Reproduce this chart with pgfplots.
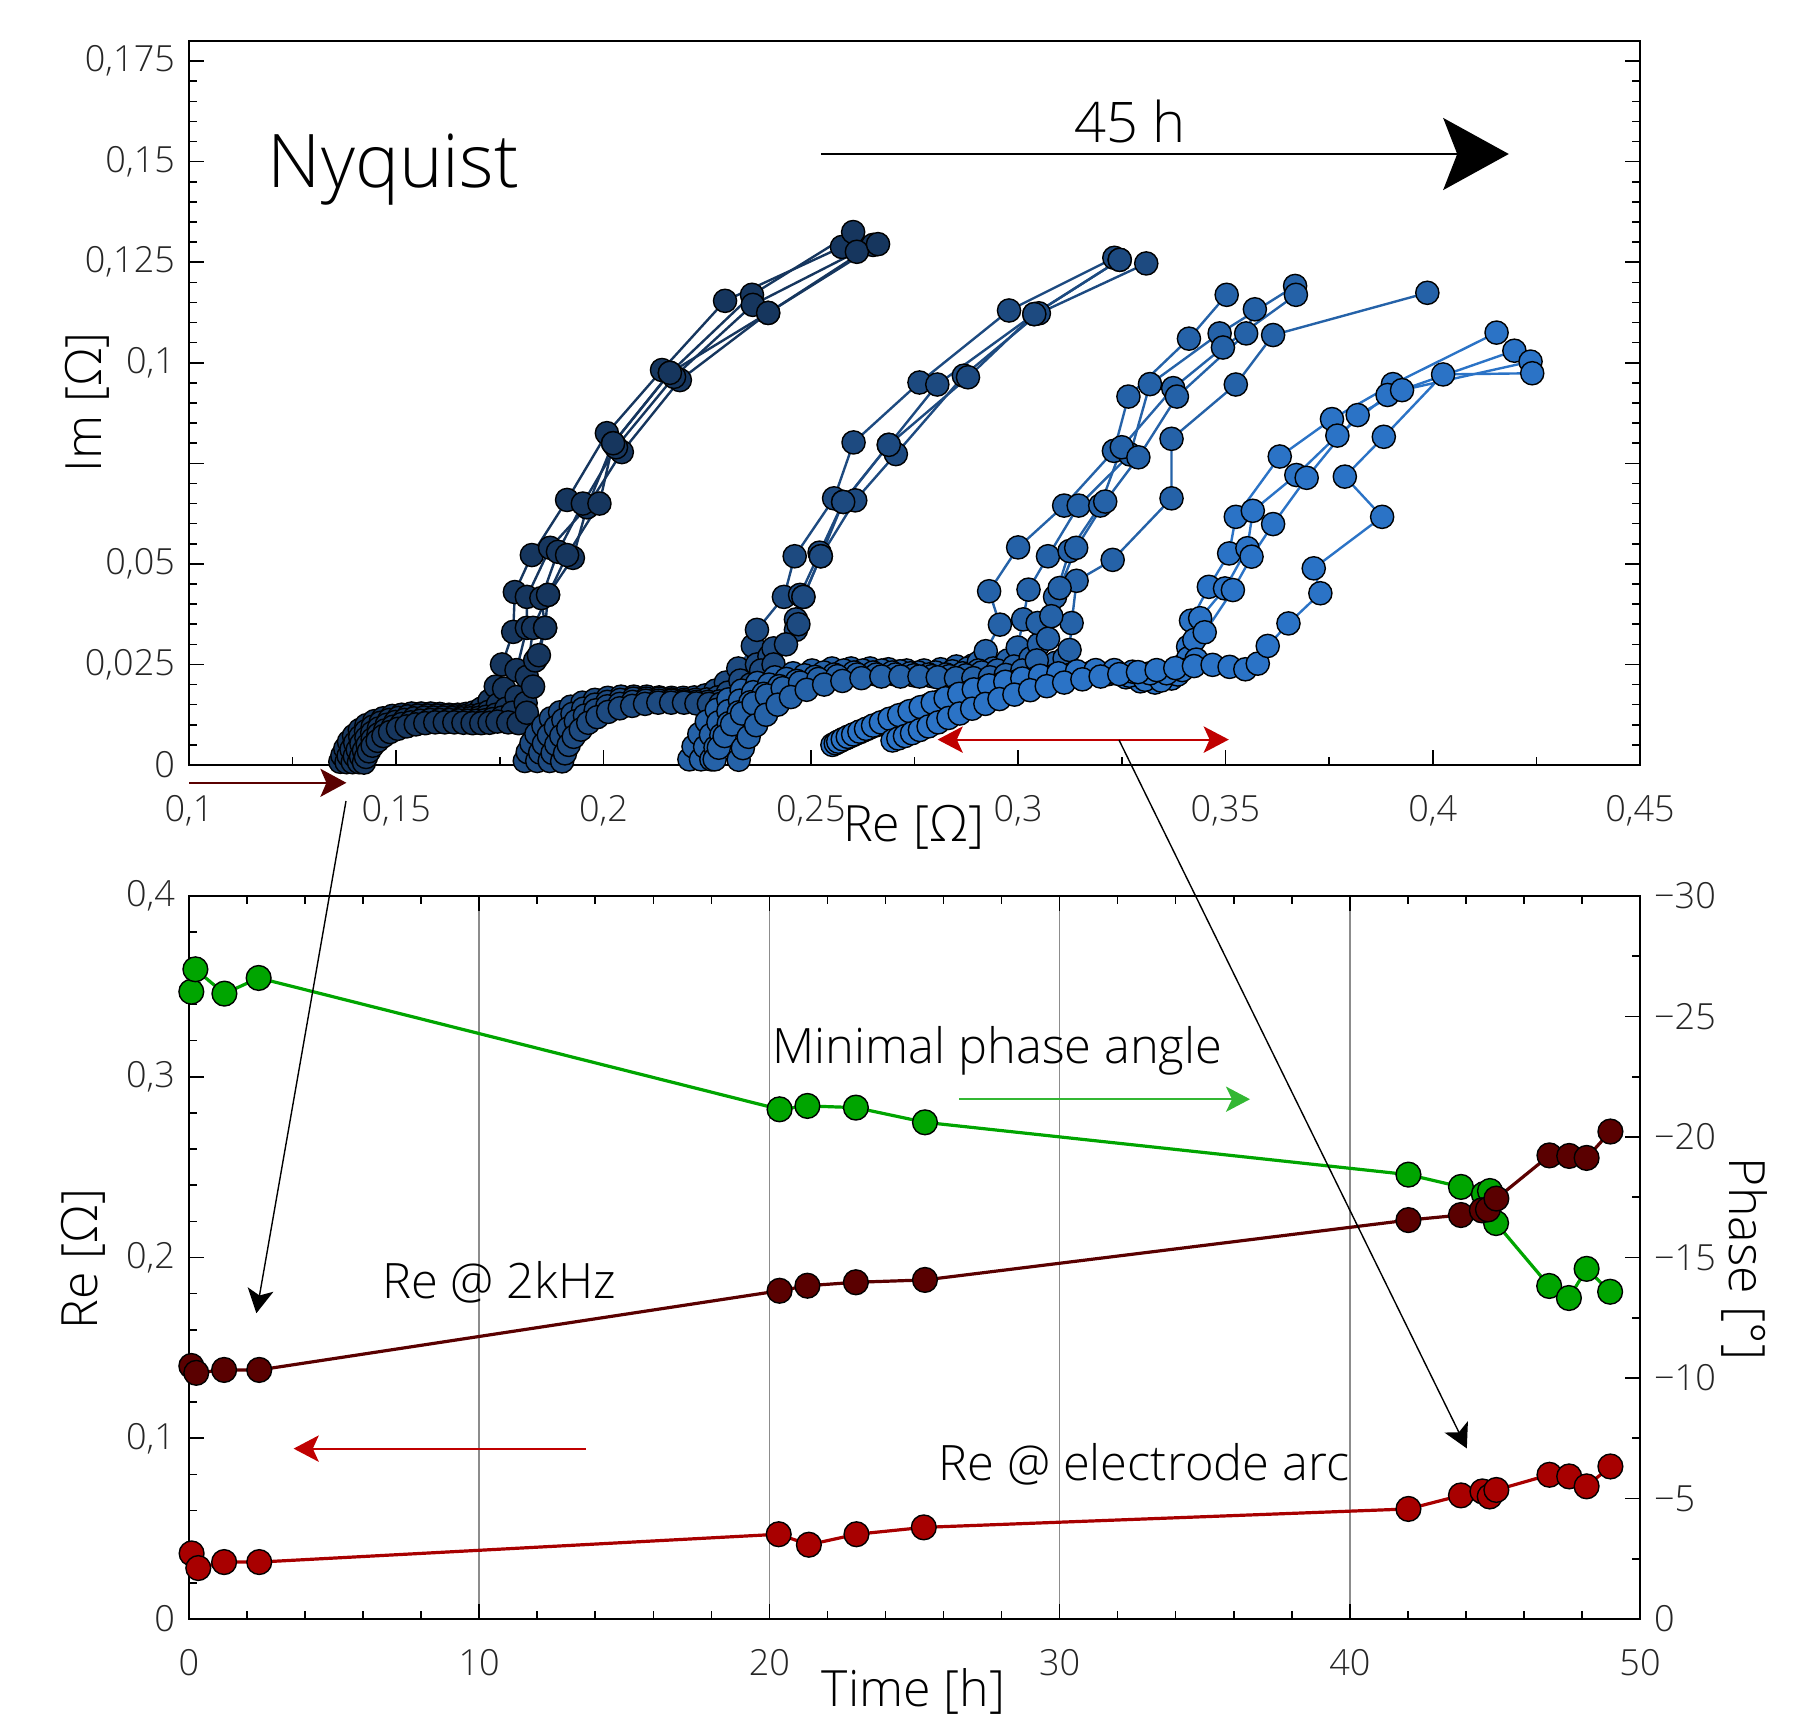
\documentclass[border=0pt]{standalone}
\usepackage{pgfplots}
\pgfplotsset{compat=1.18}
\usepackage{fontspec}
\setmainfont{Open Sans}[UprightFont={* Light}]
\usetikzlibrary{arrows.meta}

\definecolor{gA}{HTML}{16365E}
\definecolor{gB}{HTML}{1D4A80}
\definecolor{gC}{HTML}{2562A8}
\definecolor{gD}{HTML}{2B73C6}
\definecolor{phs}{HTML}{00A500}
\definecolor{kHz}{HTML}{5A0000}
\definecolor{arc}{HTML}{A80000}
\definecolor{arr}{HTML}{C00000}

\pgfplotsset{
  nyq/.style={color=#1, line width=0.6pt, mark=*, mark size=2.9pt,
    mark options={fill=#1, draw=black, line width=0.35pt}},
  tim/.style={color=#1, line width=0.8pt, mark=*, mark size=3.1pt,
    mark options={fill=#1, draw=black, line width=0.35pt}},
  frame/.style={scale only axis, width=362.75pt, anchor=south west,
    tick align=inside, major tick length=3.75pt, minor tick length=2pt,
    axis line style={line width=0.5pt},
    every tick/.style={black, line width=0.4pt},
    ticklabel style={font=\fontsize{9}{11}\selectfont, text=black!85},
    xticklabel style={yshift=-4pt}},
}

\begin{document}
\begin{tikzpicture}
\path[use as bounding box] (0pt,0pt) rectangle (455pt,429.5pt);

% Nyquist
\begin{axis}[frame, at={(47.25pt,238.25pt)}, height=181pt,
  xmin=0.1, xmax=0.45, ymin=0, ymax=0.18,
  xtick={0.1,0.15,0.2,0.25,0.3,0.35,0.4,0.45},
  xticklabels={{0,1},{0,15},{0,2},{0,25},{0,3},{0,35},{0,4},{0,45}},
  minor x tick num=1,
  ytick={0,0.025,0.05,0.075,0.1,0.125,0.15,0.175},
  yticklabels={{0},{0,025},{0,05},{},{0,1},{0,125},{0,15},{0,175}},
  minor y tick num=4,
  xtick pos=left, ytick pos=both, axis on top]

\addplot[nyq=gA] coordinates {(0.1365,0.0008)(0.1370,0.0024)(0.1377,0.0041)(0.1386,0.0058)(0.1398,0.0073)(0.1412,0.0087)(0.1428,0.0099)(0.1447,0.0109)(0.1468,0.0116)(0.1490,0.0122)(0.1513,0.0125)(0.1537,0.0128)(0.1560,0.0128)(0.1583,0.0128)(0.1605,0.0127)(0.1627,0.0125)(0.1648,0.0125)(0.1668,0.0127)(0.1687,0.0131)(0.1705,0.0140)(0.1725,0.0160)(0.1740,0.0195)(0.1755,0.0250)(0.1782,0.0331)(0.1786,0.0430)(0.1827,0.0522)(0.1912,0.0659)(0.2008,0.0825)(0.2141,0.0982)(0.2293,0.1154)(0.2575,0.1288)};
\addplot[nyq=gA] coordinates {(0.1380,0.0007)(0.1385,0.0023)(0.1392,0.0039)(0.1401,0.0055)(0.1413,0.0070)(0.1427,0.0084)(0.1443,0.0095)(0.1462,0.0105)(0.1483,0.0112)(0.1505,0.0117)(0.1528,0.0121)(0.1552,0.0123)(0.1575,0.0123)(0.1598,0.0123)(0.1620,0.0122)(0.1642,0.0121)(0.1663,0.0121)(0.1683,0.0122)(0.1702,0.0125)(0.1722,0.0132)(0.1745,0.0150)(0.1760,0.0190)(0.1790,0.0236)(0.1815,0.0341)(0.1815,0.0418)(0.1871,0.0540)(0.1960,0.0641)(0.2023,0.0800)(0.2160,0.0975)(0.2358,0.1169)(0.2602,0.1325)};
\addplot[nyq=gA] coordinates {(0.1395,0.0007)(0.1400,0.0022)(0.1407,0.0038)(0.1416,0.0053)(0.1428,0.0067)(0.1442,0.0080)(0.1458,0.0091)(0.1477,0.0100)(0.1498,0.0107)(0.1520,0.0112)(0.1543,0.0116)(0.1567,0.0118)(0.1590,0.0118)(0.1613,0.0118)(0.1635,0.0117)(0.1657,0.0116)(0.1678,0.0116)(0.1698,0.0117)(0.1717,0.0120)(0.1740,0.0125)(0.1765,0.0140)(0.1790,0.0169)(0.1815,0.0219)(0.1830,0.0341)(0.1866,0.0423)(0.1926,0.0515)(0.1960,0.0641)(0.2044,0.0778)(0.2184,0.0957)(0.2397,0.1124)(0.2650,0.1293)};
\addplot[nyq=gA] coordinates {(0.1410,0.0007)(0.1415,0.0021)(0.1422,0.0036)(0.1431,0.0050)(0.1443,0.0064)(0.1457,0.0076)(0.1473,0.0086)(0.1492,0.0095)(0.1513,0.0102)(0.1535,0.0106)(0.1558,0.0110)(0.1582,0.0112)(0.1605,0.0112)(0.1628,0.0112)(0.1650,0.0111)(0.1672,0.0110)(0.1693,0.0110)(0.1713,0.0111)(0.1732,0.0114)(0.1755,0.0118)(0.1780,0.0130)(0.1812,0.0154)(0.1835,0.0260)(0.1859,0.0341)(0.1850,0.0415)(0.1890,0.0530)(0.1950,0.0650)(0.2030,0.0790)(0.2170,0.0965)(0.2360,0.1144)(0.2611,0.1276)};
\addplot[nyq=gA] coordinates {(0.1422,0.0006)(0.1427,0.0020)(0.1434,0.0034)(0.1443,0.0048)(0.1455,0.0060)(0.1469,0.0072)(0.1485,0.0082)(0.1504,0.0090)(0.1525,0.0096)(0.1547,0.0101)(0.1570,0.0104)(0.1594,0.0106)(0.1617,0.0106)(0.1640,0.0106)(0.1662,0.0105)(0.1684,0.0104)(0.1705,0.0104)(0.1725,0.0105)(0.1744,0.0108)(0.1770,0.0106)(0.1795,0.0104)(0.1815,0.0130)(0.1830,0.0195)(0.1844,0.0273)(0.1859,0.0341)(0.1866,0.0423)(0.1912,0.0522)(0.1990,0.0650)(0.2023,0.0800)(0.2160,0.0975)(0.2397,0.1124)(0.2662,0.1295)};

\addplot[nyq=gB] coordinates {(0.1810,0.0010)(0.1817,0.0032)(0.1826,0.0054)(0.1838,0.0077)(0.1855,0.0097)(0.1873,0.0116)(0.1895,0.0131)(0.1921,0.0145)(0.1949,0.0155)(0.1979,0.0162)(0.2010,0.0167)(0.2042,0.0170)(0.2073,0.0170)(0.2104,0.0170)(0.2134,0.0168)(0.2164,0.0167)(0.2192,0.0167)(0.2219,0.0168)(0.2245,0.0173)(0.2270,0.0185)(0.2295,0.0205)(0.2325,0.0240)(0.2360,0.0296)(0.2370,0.0336)(0.2435,0.0418)(0.2461,0.0519)(0.2556,0.0663)(0.2603,0.0802)(0.2762,0.0951)(0.2978,0.1130)(0.3232,0.1261)};
\addplot[nyq=gB] coordinates {(0.1840,0.0010)(0.1847,0.0031)(0.1856,0.0053)(0.1868,0.0074)(0.1885,0.0094)(0.1903,0.0112)(0.1925,0.0127)(0.1951,0.0140)(0.1979,0.0150)(0.2009,0.0157)(0.2040,0.0162)(0.2072,0.0165)(0.2103,0.0165)(0.2134,0.0165)(0.2164,0.0163)(0.2194,0.0162)(0.2222,0.0162)(0.2249,0.0163)(0.2275,0.0168)(0.2300,0.0180)(0.2330,0.0210)(0.2370,0.0250)(0.2400,0.0270)(0.2464,0.0362)(0.2474,0.0423)(0.2521,0.0528)(0.2578,0.0654)(0.2688,0.0796)(0.2805,0.0946)(0.3039,0.1121)(0.3245,0.1256)};
\addplot[nyq=gB] coordinates {(0.1870,0.0010)(0.1877,0.0030)(0.1886,0.0051)(0.1898,0.0072)(0.1915,0.0091)(0.1933,0.0109)(0.1955,0.0123)(0.1981,0.0136)(0.2009,0.0146)(0.2039,0.0152)(0.2070,0.0157)(0.2102,0.0160)(0.2133,0.0160)(0.2164,0.0160)(0.2194,0.0158)(0.2224,0.0157)(0.2252,0.0157)(0.2279,0.0158)(0.2305,0.0163)(0.2330,0.0175)(0.2355,0.0200)(0.2380,0.0235)(0.2410,0.0290)(0.2464,0.0336)(0.2482,0.0418)(0.2524,0.0519)(0.2607,0.0658)(0.2705,0.0773)(0.2869,0.0968)(0.3050,0.1123)(0.3309,0.1247)};
\addplot[nyq=gB] coordinates {(0.1900,0.0009)(0.1907,0.0029)(0.1916,0.0050)(0.1928,0.0070)(0.1945,0.0088)(0.1963,0.0105)(0.1985,0.0119)(0.2011,0.0132)(0.2039,0.0141)(0.2069,0.0147)(0.2100,0.0152)(0.2132,0.0155)(0.2163,0.0155)(0.2194,0.0155)(0.2224,0.0153)(0.2254,0.0152)(0.2282,0.0152)(0.2309,0.0153)(0.2335,0.0158)(0.2360,0.0170)(0.2385,0.0200)(0.2410,0.0250)(0.2440,0.0300)(0.2470,0.0350)(0.2482,0.0418)(0.2524,0.0519)(0.2578,0.0654)(0.2688,0.0796)(0.2879,0.0964)(0.3039,0.1121)(0.3245,0.1256)};

\addplot[nyq=gC] coordinates {(0.2207,0.0014)(0.2217,0.0046)(0.2231,0.0077)(0.2249,0.0108)(0.2273,0.0137)(0.2301,0.0163)(0.2333,0.0185)(0.2371,0.0204)(0.2413,0.0218)(0.2457,0.0228)(0.2503,0.0235)(0.2551,0.0240)(0.2597,0.0240)(0.2643,0.0240)(0.2687,0.0238)(0.2731,0.0235)(0.2773,0.0235)(0.2813,0.0238)(0.2851,0.0245)(0.2890,0.0247)(0.2930,0.0248)(0.2970,0.0250)(0.3010,0.0251)(0.3050,0.0250)(0.3090,0.0254)(0.3112,0.0265)(0.3124,0.0286)(0.3129,0.0353)(0.3141,0.0458)(0.3228,0.0510)(0.3370,0.0663)(0.3370,0.0811)(0.3525,0.0946)(0.3615,0.1069)(0.3987,0.1174)};
\addplot[nyq=gC] coordinates {(0.2235,0.0014)(0.2245,0.0045)(0.2259,0.0075)(0.2277,0.0106)(0.2301,0.0134)(0.2329,0.0160)(0.2361,0.0181)(0.2399,0.0200)(0.2441,0.0214)(0.2485,0.0223)(0.2531,0.0230)(0.2579,0.0235)(0.2625,0.0235)(0.2671,0.0235)(0.2715,0.0233)(0.2759,0.0230)(0.2801,0.0230)(0.2841,0.0233)(0.2879,0.0240)(0.2905,0.0255)(0.2922,0.0283)(0.2956,0.0349)(0.2930,0.0432)(0.3000,0.0541)(0.3111,0.0645)(0.3231,0.0781)(0.3266,0.0916)(0.3412,0.1060)(0.3503,0.1169)};
\addplot[nyq=gC] coordinates {(0.2260,0.0014)(0.2270,0.0044)(0.2284,0.0074)(0.2302,0.0104)(0.2326,0.0131)(0.2354,0.0156)(0.2386,0.0177)(0.2424,0.0196)(0.2466,0.0209)(0.2510,0.0219)(0.2556,0.0225)(0.2604,0.0230)(0.2650,0.0230)(0.2696,0.0230)(0.2740,0.0228)(0.2784,0.0225)(0.2826,0.0225)(0.2866,0.0228)(0.2904,0.0235)(0.2940,0.0240)(0.2975,0.0260)(0.2999,0.0292)(0.3012,0.0362)(0.3025,0.0436)(0.3072,0.0519)(0.3146,0.0645)(0.3270,0.0772)(0.3318,0.0947)(0.3486,0.1073)(0.3668,0.1191)};
\addplot[nyq=gC] coordinates {(0.2268,0.0014)(0.2278,0.0043)(0.2292,0.0072)(0.2310,0.0101)(0.2334,0.0128)(0.2362,0.0153)(0.2394,0.0173)(0.2432,0.0191)(0.2474,0.0205)(0.2518,0.0214)(0.2564,0.0221)(0.2612,0.0225)(0.2658,0.0225)(0.2704,0.0225)(0.2748,0.0223)(0.2792,0.0221)(0.2834,0.0221)(0.2874,0.0223)(0.2912,0.0230)(0.2950,0.0235)(0.2990,0.0245)(0.3030,0.0265)(0.3050,0.0300)(0.3047,0.0353)(0.3089,0.0418)(0.3124,0.0532)(0.3198,0.0645)(0.3250,0.0790)(0.3374,0.0937)(0.3494,0.1038)(0.3670,0.1169)};
\addplot[nyq=gC] coordinates {(0.2326,0.0013)(0.2336,0.0042)(0.2350,0.0070)(0.2368,0.0099)(0.2392,0.0125)(0.2420,0.0150)(0.2452,0.0169)(0.2490,0.0187)(0.2532,0.0200)(0.2576,0.0209)(0.2622,0.0216)(0.2670,0.0220)(0.2716,0.0220)(0.2762,0.0220)(0.2806,0.0218)(0.2850,0.0216)(0.2892,0.0216)(0.2932,0.0218)(0.2970,0.0224)(0.3010,0.0235)(0.3045,0.0260)(0.3072,0.0314)(0.3080,0.0370)(0.3100,0.0440)(0.3140,0.0540)(0.3210,0.0655)(0.3290,0.0765)(0.3383,0.0916)(0.3550,0.1073)(0.3571,0.1133)};

\addplot[nyq=gD] coordinates {(0.2552,0.0050)(0.2563,0.0056)(0.2575,0.0062)(0.2588,0.0068)(0.2603,0.0075)(0.2619,0.0082)(0.2636,0.0090)(0.2655,0.0098)(0.2676,0.0107)(0.2699,0.0116)(0.2724,0.0126)(0.2751,0.0136)(0.2780,0.0147)(0.2811,0.0158)(0.2844,0.0169)(0.2879,0.0180)(0.2916,0.0190)(0.2955,0.0199)(0.2996,0.0207)(0.3039,0.0214)(0.3083,0.0220)(0.3128,0.0225)(0.3173,0.0228)(0.3218,0.0226)(0.3260,0.0218)(0.3295,0.0208)(0.3330,0.0205)(0.3370,0.0215)(0.3400,0.0250)(0.3410,0.0294)(0.3417,0.0359)(0.3460,0.0443)(0.3509,0.0526)(0.3525,0.0617)(0.3631,0.0767)(0.3757,0.0860)(0.3904,0.0947)(0.4154,0.1075)};
\addplot[nyq=gD] coordinates {(0.2560,0.0054)(0.2571,0.0060)(0.2583,0.0066)(0.2596,0.0072)(0.2611,0.0079)(0.2627,0.0086)(0.2644,0.0094)(0.2663,0.0102)(0.2684,0.0111)(0.2707,0.0120)(0.2732,0.0130)(0.2759,0.0140)(0.2788,0.0151)(0.2819,0.0162)(0.2852,0.0173)(0.2887,0.0184)(0.2924,0.0194)(0.2963,0.0203)(0.3004,0.0211)(0.3047,0.0218)(0.3091,0.0224)(0.3136,0.0229)(0.3181,0.0232)(0.3226,0.0230)(0.3268,0.0222)(0.3306,0.0212)(0.3345,0.0210)(0.3385,0.0225)(0.3410,0.0265)(0.3425,0.0311)(0.3439,0.0365)(0.3499,0.0439)(0.3553,0.0539)(0.3566,0.0632)(0.3671,0.0721)(0.3770,0.0819)(0.3891,0.0920)(0.4197,0.1030)};
\addplot[nyq=gD] coordinates {(0.2566,0.0058)(0.2577,0.0064)(0.2589,0.0070)(0.2602,0.0076)(0.2617,0.0083)(0.2633,0.0090)(0.2650,0.0098)(0.2669,0.0106)(0.2690,0.0115)(0.2713,0.0124)(0.2738,0.0134)(0.2765,0.0144)(0.2794,0.0155)(0.2825,0.0166)(0.2858,0.0177)(0.2893,0.0188)(0.2930,0.0198)(0.2969,0.0207)(0.3010,0.0215)(0.3053,0.0222)(0.3097,0.0228)(0.3142,0.0233)(0.3187,0.0236)(0.3232,0.0236)(0.3276,0.0232)(0.3318,0.0228)(0.3358,0.0228)(0.3396,0.0236)(0.3430,0.0262)(0.3450,0.0330)(0.3518,0.0435)(0.3563,0.0518)(0.3615,0.0599)(0.3696,0.0714)(0.3819,0.0870)(0.3926,0.0932)(0.4236,0.1003)};
\addplot[nyq=gD] coordinates {(0.2697,0.0061)(0.2711,0.0066)(0.2727,0.0072)(0.2744,0.0079)(0.2763,0.0087)(0.2784,0.0096)(0.2807,0.0106)(0.2832,0.0117)(0.2859,0.0128)(0.2889,0.0140)(0.2921,0.0152)(0.2955,0.0164)(0.2991,0.0175)(0.3029,0.0186)(0.3069,0.0196)(0.3111,0.0205)(0.3155,0.0213)(0.3199,0.0220)(0.3244,0.0226)(0.3289,0.0231)(0.3334,0.0236)(0.3379,0.0241)(0.3424,0.0246)(0.3469,0.0249)(0.3510,0.0244)(0.3548,0.0238)(0.3578,0.0252)(0.3602,0.0296)(0.3652,0.0352)(0.3729,0.0427)(0.3713,0.0489)(0.3878,0.0617)(0.3788,0.0717)(0.3882,0.0816)(0.4025,0.0971)(0.4240,0.0974)};
\end{axis}

% time plot: frame and grid
\begin{axis}[frame, at={(47.25pt,24.75pt)}, height=180.75pt,
  xmin=0, xmax=50, ymin=0, ymax=0.4,
  xtick={0,10,20,30,40,50}, xticklabels={0,10,20,30,40,50}, minor x tick num=4,
  ytick={0,0.1,0.2,0.3,0.4}, yticklabels={{0},{0,1},{0,2},{0,3},{0,4}}, minor y tick num=4,
  xtick pos=both, ytick pos=left,
  xmajorgrids, grid style={black!45, line width=0.4pt}]
\addplot[draw=none] coordinates {(0,0)};
\end{axis}

% phase (right axis)
\begin{axis}[frame, at={(47.25pt,24.75pt)}, height=180.75pt,
  xmin=0, xmax=50, ymin=-30, ymax=0, y dir=reverse,
  axis x line=none, axis y line*=right,
  ytick={-30,-25,-20,-15,-10,-5,0}, yticklabels={−30,−25,−20,−15,−10,−5,0},
  minor y tick num=1]
\addplot[tim=phs] coordinates {(0.08,-26.03)(0.22,-26.96)(1.22,-25.95)(2.40,-26.60)(20.35,-21.15)(21.31,-21.29)(22.98,-21.22)(25.36,-20.61)(42.02,-18.44)(43.83,-17.93)(44.62,-17.63)(44.83,-17.76)(45.04,-16.43)(46.87,-13.82)(47.55,-13.32)(48.16,-14.53)(48.97,-13.58)};
\end{axis}

% Re series
\begin{axis}[frame, at={(47.25pt,24.75pt)}, height=180.75pt,
  xmin=0, xmax=50, ymin=0, ymax=0.4, hide axis]
\addplot[tim=kHz] coordinates {(0.08,0.1400)(0.25,0.1362)(1.21,0.1378)(2.42,0.1378)(20.35,0.1816)(21.31,0.1844)(22.98,0.1863)(25.36,0.1876)(42.02,0.2207)(43.83,0.2235)(44.55,0.2261)(44.76,0.2266)(45.05,0.2326)(46.88,0.2565)(47.56,0.2562)(48.16,0.2551)(48.98,0.2697)};
\addplot[tim=arc] coordinates {(0.09,0.0363)(0.32,0.0282)(1.21,0.0315)(2.42,0.0315)(20.32,0.0469)(21.36,0.0411)(23.00,0.0469)(25.32,0.0507)(42.02,0.0609)(43.83,0.0684)(44.57,0.0706)(44.82,0.0678)(45.05,0.0714)(46.88,0.0798)(47.56,0.0789)(48.16,0.0734)(48.98,0.0844)};
\end{axis}

% labels
\node[rotate=90, font=\fontsize{12.5}{14}\selectfont] at (21.9pt,328.9pt) {Im [Ω]};
\node[font=\fontsize{12.5}{14}\selectfont] at (228.4pt,222.6pt) {Re [Ω]};
\node[rotate=90, font=\fontsize{12.5}{14}\selectfont] at (20.9pt,114.75pt) {Re [Ω]};
\node[rotate=-90, font=\fontsize{12.5}{14}\selectfont] at (436.15pt,114.75pt) {Phase [°]};
\node[anchor=base, inner sep=0pt, font=\fontsize{12.5}{14}\selectfont] at (228.4pt,3pt) {Time [h]};

\node[anchor=base west, inner sep=0pt, font=\fontsize{18.5}{22}\selectfont] at (66.75pt,382.5pt) {Nyquist};
\node[anchor=base west, inner sep=0pt, font=\fontsize{14}{16}\selectfont] at (268.4pt,393.75pt) {45 h};
\node[anchor=base west, inner sep=0pt, font=\fontsize{12.2}{14}\selectfont] at (193pt,163.7pt) {Minimal phase angle};
\node[anchor=base west, inner sep=0pt, font=\fontsize{12.2}{14}\selectfont] at (95.4pt,104.9pt) {Re @ 2kHz};
\node[anchor=base west, inner sep=0pt, font=\fontsize{12.2}{14}\selectfont] at (234.5pt,59.5pt) {Re @ electrode arc};

% arrows
\draw[line width=0.5pt, -{Stealth[length=16.4pt, width=18pt, inset=3.5pt]}] (205.2pt,391pt) -- (377.2pt,391pt);
\draw[kHz, line width=0.6pt, -{Stealth[length=6.5pt, width=7pt, inset=1.5pt]}] (47.25pt,233.8pt) -- (86.6pt,233.8pt);
\draw[arr, line width=0.5pt, {Stealth[length=6.3pt, width=6.6pt, inset=1.5pt]}-{Stealth[length=6.3pt, width=6.6pt, inset=1.5pt]}] (234.4pt,244.6pt) -- (307.2pt,244.6pt);
\draw[arr, line width=0.5pt, -{Stealth[length=6.3pt, width=6.6pt, inset=1.5pt]}] (146.5pt,67.35pt) -- (73.4pt,67.35pt);
\draw[phs!80!white, line width=0.5pt, -{Stealth[length=6pt, width=6.3pt, inset=1.5pt]}] (239.7pt,154.7pt) -- (312.5pt,154.7pt);
\draw[line width=0.35pt, -{Stealth[length=6pt, width=6.5pt, inset=1.5pt]}] (86.5pt,229.25pt) -- (64.1pt,101.2pt);
\draw[line width=0.35pt, -{Stealth[length=6pt, width=6.5pt, inset=1.5pt]}] (279.75pt,244.5pt) -- (366.7pt,67.4pt);
\end{tikzpicture}
\end{document}
